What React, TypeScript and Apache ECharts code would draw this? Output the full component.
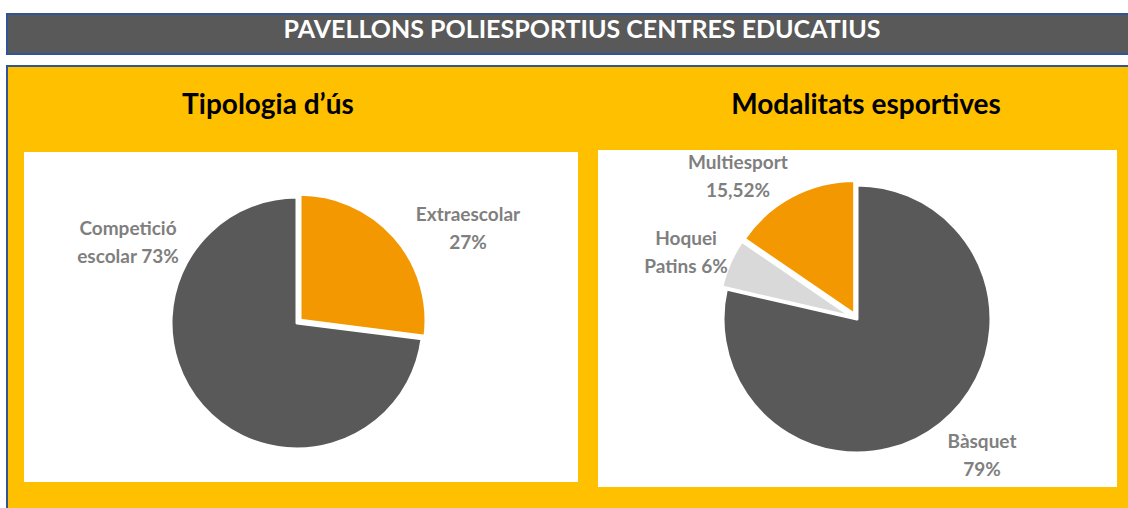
import React, { useEffect, useRef } from "react";
import * as echarts from "echarts";

const usageNames = ["Extraescolar", "Competició escolar"];
const usageValues = [27, 73];
const usageLabels = ["Extraescolar\n27%", "Competició\nescolar 73%"];
const usageColors = ["#F39800", "#595959"];

const sportNames = ["Bàsquet", "Hoquei Patins", "Multiesport"];
const sportValues = [79, 6, 15.52];
const sportLabels = ["Bàsquet\n79%", "Hoquei\nPatins 6%", "Multiesport\n15,52%"];
const sportColors = ["#595959", "#D9D9D9", "#F39800"];

const mainTitle = "PAVELLONS POLIESPORTIUS CENTRES EDUCATIUS";
const leftTitle = "Tipologia d’ús";
const rightTitle = "Modalitats esportives";

const usageLabelPos = [
  [468, 227],
  [128, 241],
];
const sportLabelPos = [
  [982, 454],
  [686, 251],
  [738, 175],
];

const FONT = "Lato, 'Open Sans', sans-serif";

export default function App() {
  const ref = useRef<HTMLDivElement>(null);
  useEffect(() => {
    document.body.style.margin = "0";
    const chart = echarts.init(ref.current!, null, { renderer: "svg" });
    const labelStyle = {
      show: true,
      position: "outside",
      color: "#7F7F7F",
      fontFamily: FONT,
      fontWeight: "bold",
      fontSize: 19,
      lineHeight: 28,
      align: "center",
      formatter: (p: any) => p.data.label_text,
    };
    const makePie = (
      names: string[],
      values: number[],
      colors: string[],
      center: number[],
      radius: number,
      offset: number,
      isSelected: (i: number) => boolean
    ) => ({
      type: "pie",
      center,
      radius: [0, radius],
      startAngle: 90,
      clockwise: true,
      selectedMode: "multiple",
      selectedOffset: offset,
      label: { show: false },
      labelLine: { show: false },
      itemStyle: { borderColor: "#ffffff", borderWidth: 3 },
      emphasis: { disabled: true },
      silent: true,
      data: names.map((n, i) => ({
        name: n,
        value: values[i],
        selected: isSelected(i),
        itemStyle: { color: colors[i] },
      })),
    });
    const makeLabels = (
      names: string[],
      values: number[],
      labels: string[],
      center: number[],
      radius: number,
      pos: number[][]
    ) => ({
      type: "pie",
      z: 5,
      center,
      radius: [0, radius],
      startAngle: 90,
      clockwise: true,
      silent: true,
      emphasis: { disabled: true },
      label: labelStyle,
      labelLine: { show: false },
      labelLayout: (p: any) => ({
        x: pos[p.dataIndex][0],
        y: pos[p.dataIndex][1],
        align: "center",
        verticalAlign: "middle",
      }),
      itemStyle: { color: "rgba(0,0,0,0)", borderWidth: 0 },
      data: names.map((n, i) => ({
        name: n,
        value: values[i],
        label_text: labels[i],
      })),
    });
    chart.setOption({
      animation: false,
      backgroundColor: "#ffffff",
      graphic: [
        {
          type: "rect",
          z: 0,
          shape: { x: 7, y: 14, width: 1130, height: 40 },
          style: { fill: "#595959", stroke: "#2F5597", lineWidth: 2 },
        },
        {
          type: "rect",
          z: 0,
          shape: { x: 7, y: 66, width: 1130, height: 460 },
          style: { fill: "#FFC000", stroke: "#2F5597", lineWidth: 2 },
        },
        {
          type: "rect",
          z: 0,
          shape: { x: 24, y: 152, width: 554, height: 330 },
          style: { fill: "#ffffff" },
        },
        {
          type: "rect",
          z: 0,
          shape: { x: 598, y: 150, width: 519, height: 337 },
          style: { fill: "#ffffff" },
        },
      ],
      title: [
        {
          text: mainTitle,
          left: 577,
          top: 10,
          textAlign: "center",
          textStyle: { color: "#ffffff", fontFamily: FONT, fontWeight: "bold", fontSize: 25 },
        },
        {
          text: leftTitle,
          left: 263,
          top: 84,
          textAlign: "center",
          textStyle: { color: "#000000", fontFamily: FONT, fontWeight: "bold", fontSize: 28 },
        },
        {
          text: rightTitle,
          left: 861,
          top: 84,
          textAlign: "center",
          textStyle: { color: "#000000", fontFamily: FONT, fontWeight: "bold", fontSize: 28 },
        },
      ],
      series: [
        makePie(usageNames, usageValues, usageColors, [297, 323], 126, 4, (i) => i === 0),
        makePie(sportNames, sportValues, sportColors, [857, 319], 134, 5, (i) => i > 0),
        makeLabels(usageNames, usageValues, usageLabels, [297, 323], 126, usageLabelPos),
        makeLabels(sportNames, sportValues, sportLabels, [857, 319], 134, sportLabelPos),
      ],
    });
    return () => chart.dispose();
  }, []);
  return <div ref={ref} style={{ width: 1128, height: 508 }} />;
}
